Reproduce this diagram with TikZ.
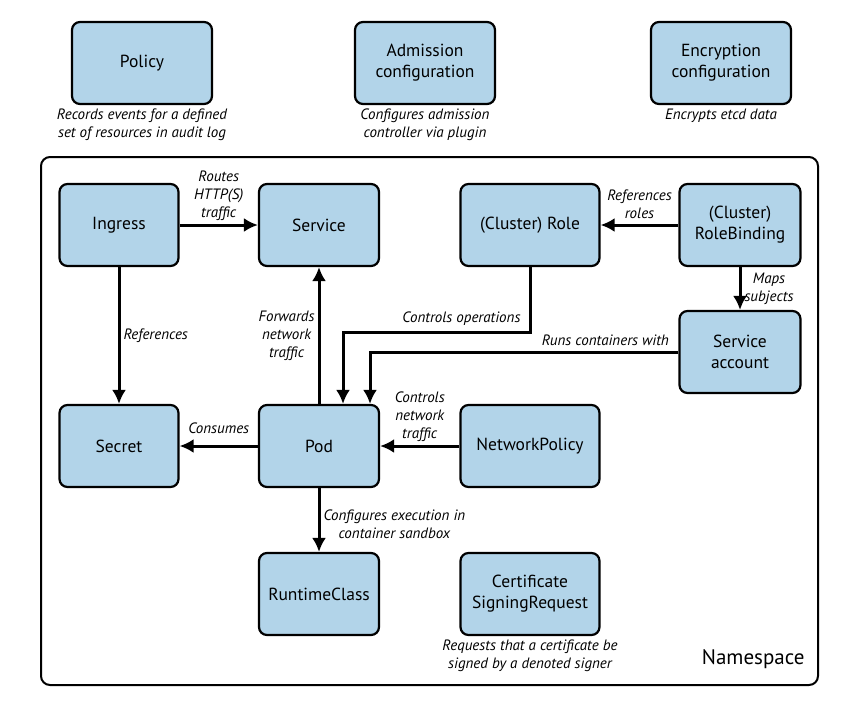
\documentclass[tikz,border=0pt]{standalone}
\usepackage{fontspec}
\setmainfont{PT Sans}
\usepackage{xcolor}
\usepackage{tikz}
\usetikzlibrary{calc, positioning, arrows.meta}

\definecolor{boxblue}{RGB}{178,212,233}

\begin{document}
\begin{tikzpicture}[x=1pt, y=-1pt, >={Latex[length=14pt, width=14pt]},
    box/.style={draw, line width=2.2pt, rounded corners=8pt, fill=boxblue,
        minimum height=82pt, align=center, font=\fontsize{17.5}{21}\selectfont},
    lbl/.style={font=\fontsize{15}{18}\selectfont\itshape, align=center, inner sep=3pt},
    arr/.style={->, line width=3pt}]
    \useasboundingbox (0,0) rectangle (846,702);

    % 1. Cấu hình bên ngoài namespace
    \node[box, minimum width=140pt] (policy) at (142,63) {Policy};
    \node[box, minimum width=140pt] (admission) at (425,63) {Admission\\configuration};
    \node[box, minimum width=140pt] (encryption) at (721,63) {Encryption\\configuration};
    \node[lbl, below=1pt of policy] (policytxt) {Records events for a defined\\set of resources in audit log};
    \node[lbl, below=1pt of admission] (admissiontxt) {Configures admission\\controller via plugin};
    \node[lbl, below=1pt of encryption] (encryptiontxt) {Encrypts etcd data};

    % 2. Khung namespace
    \node[draw, line width=2pt, rounded corners=9pt, minimum width=777pt, minimum height=528pt] (ns) at (429.5,421) {};
    \node[font=\fontsize{21}{24}\selectfont, anchor=east] (nslbl) at (808,659) {Namespace};

    % 3. Các đối tượng
    \node[box, minimum width=119pt] (ingress) at (119,225) {Ingress};
    \node[box, minimum width=120pt] (service) at (319,225) {Service};
    \node[box, minimum width=139pt] (role) at (530,225) {(Cluster) Role};
    \node[box, minimum width=121pt] (rolebind) at (740,225) {(Cluster)\\RoleBinding};
    \node[box, minimum width=121pt] (sa) at (740,352) {Service\\account};
    \node[box, minimum width=119pt] (secret) at (119,446) {Secret};
    \node[box, minimum width=120pt] (pod) at (319,446) {Pod};
    \node[box, minimum width=139pt] (netpol) at (530,446) {NetworkPolicy};
    \node[box, minimum width=120pt] (runtime) at (319,594) {RuntimeClass};
    \node[box, minimum width=139pt] (csr) at (530,594) {Certificate\\SigningRequest};
    \node[lbl, below=1pt of csr] (csrtxt) {Requests that a certificate be\\signed by a denoted signer};

    % 4. Mũi tên
    \coordinate (opsbend) at (530,332);
    \draw[arr] (ingress) -- (service) node[lbl, midway, above] {Routes\\HTTP(S)\\traffic};
    \draw[arr] (ingress) -- (secret) node[lbl, midway, right] {References};
    \draw[arr] (pod) -- (service) node[lbl, midway, left] {Forwards\\network\\traffic};
    \draw[arr] (role) -- (opsbend) node[lbl, pos=1, above left, xshift=-5pt, yshift=2pt] {Controls operations}
        -| ([xshift=24pt]pod.north);
    \draw[arr] (sa) -| ([xshift=51pt]pod.north) node[lbl, pos=0, above left, xshift=-5pt, yshift=2pt] {Runs containers with};
    \draw[arr] (rolebind) -- (role) node[lbl, midway, above, yshift=2pt] {References\\roles};
    \draw[arr] (rolebind) -- (sa) node[lbl, midway, right] {Maps\\subjects};
    \draw[arr] (netpol) -- (pod) node[lbl, midway, above] {Controls\\network\\traffic};
    \draw[arr] (pod) -- (secret) node[lbl, midway, above, yshift=8pt] {Consumes};
    \draw[arr] (pod) -- (runtime) node[lbl, midway, right, yshift=-4pt] {Configures execution in\\container sandbox};
\end{tikzpicture}
\end{document}
